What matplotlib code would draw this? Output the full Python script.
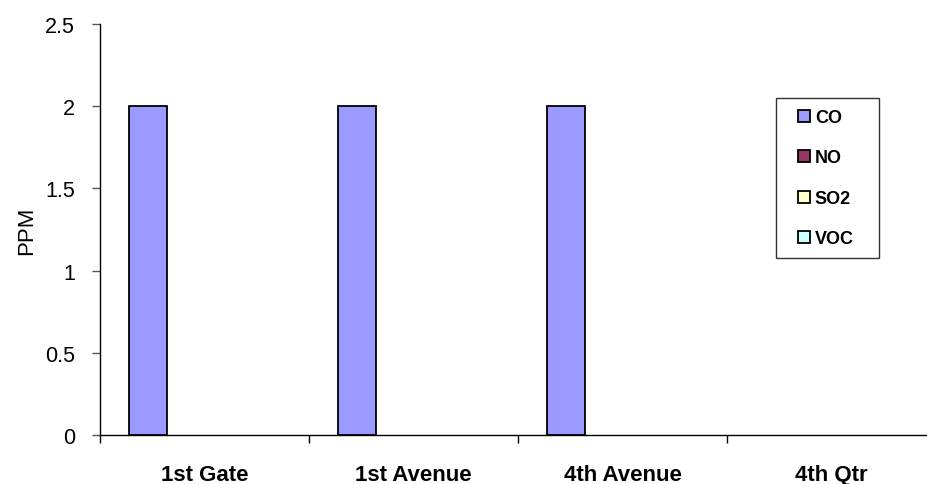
import matplotlib
matplotlib.use("Agg")
import matplotlib.pyplot as plt
from matplotlib.lines import Line2D
import numpy as np

plt.rcParams['font.family'] = ['Liberation Sans', 'DejaVu Sans']

categories = ["1st Gate", "1st Avenue", "4th Avenue", "4th Qtr"]
series_names = ["CO", "NO", "SO2", "VOC"]
co = [2, 2, 2, 0]
no = [0, 0, 0, 0]
so2 = [0, 0, 0, 0]
voc = [0, 0, 0, 0]
series_values = [co, no, so2, voc]
colors = ["#9999FF", "#993366", "#FFFFCC", "#CCFFFF"]
y_ticks = [0, 0.5, 1, 1.5, 2, 2.5]
y_tick_labels = ["0", "0.5", "1", "1.5", "2", "2.5"]

W, H = 927, 485
fig = plt.figure(figsize=(W / 100, H / 100), dpi=100)
x_left, x_right = 100, 936
y_top, y_bot = 25, 436
ax = fig.add_axes([x_left / W, 1 - y_bot / H, (x_right - x_left) / W, (y_bot - y_top) / H])

n = len(series_names)
bar_w = 1 / (n + 1.5)
x = np.arange(len(categories))
handles = []
for i, (name, vals, c) in enumerate(zip(series_names, series_values, colors)):
    pos = x + 0.75 * bar_w + i * bar_w + bar_w / 2
    heights = np.array(vals, dtype=float)
    mask = heights > 0
    ax.bar(pos[mask], heights[mask], width=bar_w, color=c, edgecolor="black",
           linewidth=1.3, zorder=3)
    handles.append(Line2D([], [], linestyle="none", marker="s", markersize=8,
                          markerfacecolor=c, markeredgecolor="black",
                          markeredgewidth=1.3, label=name))

ax.set_xlim(0, len(categories))
ax.set_ylim(0, 2.5)
ax.set_xticks(np.arange(len(categories) + 1))
ax.set_xticklabels([])
ax.set_xticks(x + 0.5, minor=True)
ax.set_xticklabels(categories, minor=True, fontsize=16, fontweight="bold")
ax.tick_params(axis="x", which="minor", length=0, pad=21)
ax.tick_params(axis="x", which="major", direction="out", length=6, width=1)
ax.set_yticks(y_ticks)
ax.set_yticklabels(y_tick_labels, fontsize=15.5)
ax.tick_params(axis="y", direction="out", length=6, width=1, pad=12, color="#555555")
ax.set_ylabel("PPM", fontsize=16, labelpad=6)

for s in ["top", "right"]:
    ax.spines[s].set_visible(False)
for s in ["left", "bottom"]:
    ax.spines[s].set_linewidth(1)

leg_x0, leg_y0, leg_w = 776, 99, 103
leg = fig.legend(handles=handles, loc="upper left",
                 bbox_to_anchor=(leg_x0 / W, 1 - leg_y0 / H - 0.2, leg_w / W, 0.2),
                 mode="expand",
                 frameon=True, fancybox=False, edgecolor="black",
                 prop={"size": 13, "weight": "bold"},
                 handlelength=1.9, handleheight=0.6, handletextpad=-0.35,
                 labelspacing=1.3, borderpad=0.6, borderaxespad=0)
leg.get_frame().set_linewidth(1)

fig.savefig("out.png", dpi=100)
